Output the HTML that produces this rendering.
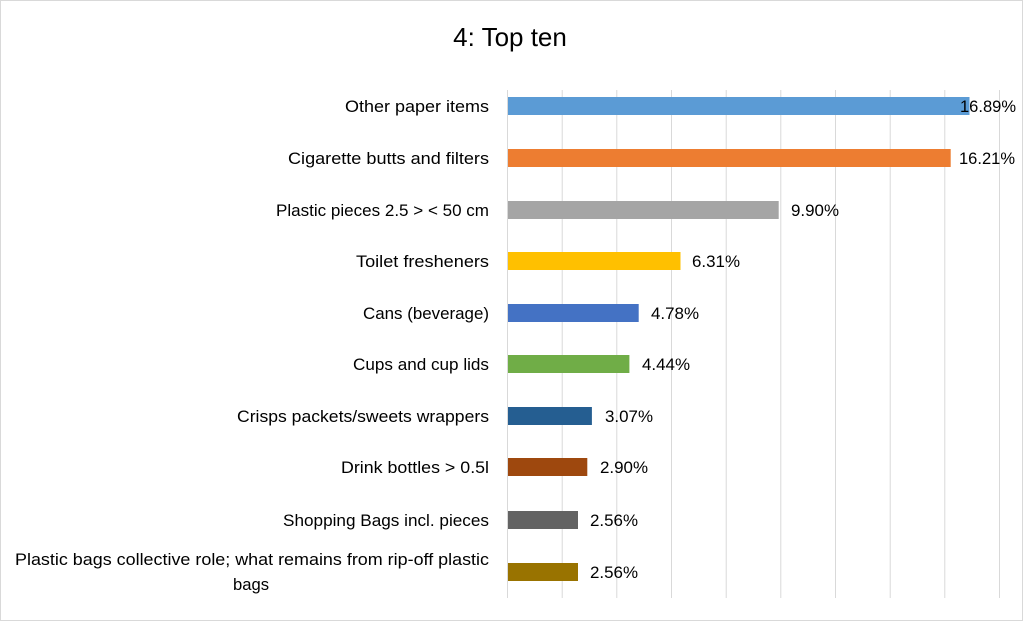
<!DOCTYPE html>
<html><head><meta charset="utf-8"><style>
html,body{margin:0;padding:0;background:#fff;}
svg{display:block;font-family:"Liberation Sans",sans-serif;}
</style></head><body>
<svg width="1024" height="622" viewBox="0 0 1024 622">
<rect x="0.5" y="0.5" width="1022" height="620" fill="#fff" stroke="#d9d9d9"/>
<text x="510" y="46" font-size="26" text-anchor="middle" fill="#000">4: Top ten</text>
<g stroke="#d9d9d9" stroke-width="1">
<line x1="507.5" y1="90" x2="507.5" y2="598"/>
<line x1="562.2" y1="90" x2="562.2" y2="598"/>
<line x1="616.8" y1="90" x2="616.8" y2="598"/>
<line x1="671.5" y1="90" x2="671.5" y2="598"/>
<line x1="726.2" y1="90" x2="726.2" y2="598"/>
<line x1="780.8" y1="90" x2="780.8" y2="598"/>
<line x1="835.5" y1="90" x2="835.5" y2="598"/>
<line x1="890.2" y1="90" x2="890.2" y2="598"/>
<line x1="944.8" y1="90" x2="944.8" y2="598"/>
<line x1="999.5" y1="90" x2="999.5" y2="598"/>
</g>
<g>
<rect x="508" y="97" width="461.5" height="18" fill="#5b9bd5"/>
<rect x="508" y="149" width="442.7" height="18" fill="#ed7d31"/>
<rect x="508" y="201" width="270.7" height="18" fill="#a5a5a5"/>
<rect x="508" y="252" width="172.5" height="18" fill="#ffc000"/>
<rect x="508" y="304" width="130.7" height="18" fill="#4472c4"/>
<rect x="508" y="355" width="121.4" height="18" fill="#70ad47"/>
<rect x="508" y="407" width="83.9" height="18" fill="#255e91"/>
<rect x="508" y="458" width="79.3" height="18" fill="#9e480e"/>
<rect x="508" y="511" width="70" height="18" fill="#636363"/>
<rect x="508" y="563" width="70" height="18" fill="#997300"/>
</g>
<g font-size="16.5" fill="#000">
<text x="960" y="112" textLength="56" lengthAdjust="spacingAndGlyphs">16.89%</text>
<text x="959" y="164" textLength="56" lengthAdjust="spacingAndGlyphs">16.21%</text>
<text x="791" y="216" textLength="48" lengthAdjust="spacingAndGlyphs">9.90%</text>
<text x="692" y="267" textLength="48" lengthAdjust="spacingAndGlyphs">6.31%</text>
<text x="651" y="319" textLength="48" lengthAdjust="spacingAndGlyphs">4.78%</text>
<text x="642" y="370" textLength="48" lengthAdjust="spacingAndGlyphs">4.44%</text>
<text x="605" y="422" textLength="48" lengthAdjust="spacingAndGlyphs">3.07%</text>
<text x="600" y="473" textLength="48" lengthAdjust="spacingAndGlyphs">2.90%</text>
<text x="590" y="526" textLength="48" lengthAdjust="spacingAndGlyphs">2.56%</text>
<text x="590" y="578" textLength="48" lengthAdjust="spacingAndGlyphs">2.56%</text>
</g>
<g font-size="16.5" fill="#000" text-anchor="end">
<text x="489" y="112" textLength="144" lengthAdjust="spacingAndGlyphs">Other paper items</text>
<text x="489" y="164" textLength="201" lengthAdjust="spacingAndGlyphs">Cigarette butts and filters</text>
<text x="489" y="216" textLength="213" lengthAdjust="spacingAndGlyphs">Plastic pieces 2.5 &gt; &lt; 50 cm</text>
<text x="489" y="267" textLength="133" lengthAdjust="spacingAndGlyphs">Toilet fresheners</text>
<text x="489" y="319" textLength="126" lengthAdjust="spacingAndGlyphs">Cans (beverage)</text>
<text x="489" y="370" textLength="136" lengthAdjust="spacingAndGlyphs">Cups and cup lids</text>
<text x="489" y="422" textLength="252" lengthAdjust="spacingAndGlyphs">Crisps packets/sweets wrappers</text>
<text x="489" y="473" textLength="148" lengthAdjust="spacingAndGlyphs">Drink bottles &gt; 0.5l</text>
<text x="489" y="526" textLength="206" lengthAdjust="spacingAndGlyphs">Shopping Bags incl. pieces</text>
<text x="489" y="565" textLength="474" lengthAdjust="spacingAndGlyphs">Plastic bags collective role; what remains from rip-off plastic</text>
<text x="251" y="590" text-anchor="middle" textLength="36" lengthAdjust="spacingAndGlyphs">bags</text>
</g>
</svg>
</body></html>
